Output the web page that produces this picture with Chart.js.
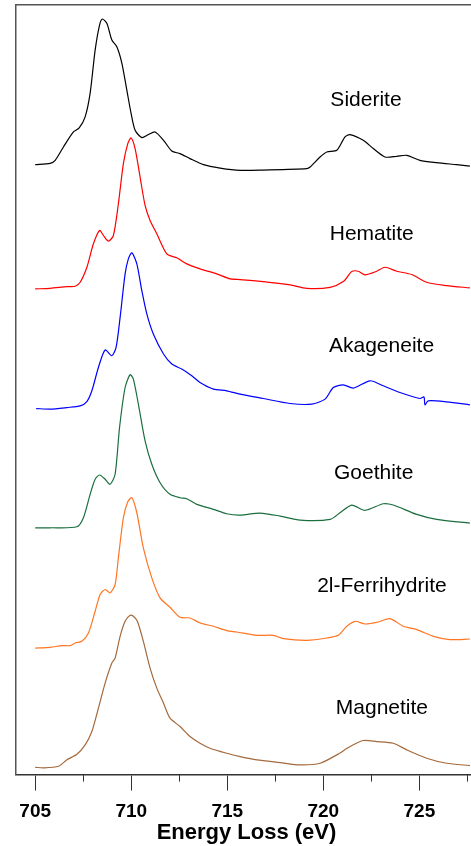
<!DOCTYPE html>
<html>
<head>
<meta charset="utf-8">
<script src="https://cdn.jsdelivr.net/npm/chart.js@4.4.0/dist/chart.umd.min.js"></script>
<style>
  html, body { margin: 0; padding: 0; background: #fff; overflow: hidden; }
  #wrap { width: 480px; height: 846px; }
</style>
</head>
<body>
<div id="wrap"><canvas id="eels" width="480" height="846"></canvas></div>
<script>
// Fe L-edge spectra, stacked (intensity already includes offset)
const tickValues = [705, 710, 715, 720, 725];
const minorTicks = [707.5, 712.5, 717.5, 722.5, 727.5];

const sideriteE = [705.0, 705.78, 706.04, 706.47, 706.99, 707.29, 707.6, 707.86, 708.12, 708.35, 708.5, 708.73, 708.99, 709.25, 709.51, 709.77, 709.99, 710.2, 710.55, 710.89, 711.24, 711.68, 712.11, 712.54, 713.06, 713.76, 714.63, 715.67, 716.88, 719.14, 719.31, 719.83, 720.18, 720.7, 721.13, 721.39, 722.08, 722.6, 723.21, 723.82, 724.34, 725.03, 725.9, 726.94, 727.63];
const sideriteI = [608.7, 610, 613, 626.3, 641.3, 645.3, 656.3, 680, 723, 748, 754, 749.7, 733, 726.3, 710, 683, 660, 643, 635.7, 638.7, 641.3, 633, 622.3, 619.7, 614.7, 608.7, 605.3, 603, 603.3, 604.7, 606.3, 616.3, 621.3, 623, 636.3, 638.7, 633, 624.7, 616.3, 617, 618, 613, 610.7, 608.7, 607.3];

const hematiteE = [705.0, 705.78, 706.65, 707.08, 707.34, 707.69, 708.03, 708.35, 708.55, 708.81, 709.07, 709.33, 709.59, 709.82, 709.99, 710.2, 710.46, 710.72, 710.98, 711.33, 711.85, 712.37, 712.89, 713.58, 714.45, 715.15, 715.67, 716.88, 718.27, 719.14, 720.35, 721.04, 721.48, 721.82, 722.17, 722.78, 723.21, 723.82, 724.6, 725.38, 726.42, 727.63];
const hematiteI = [484.7, 485.3, 487, 487.3, 491.3, 506.3, 529.7, 543, 538, 532.3, 538, 569.7, 609.7, 629.7, 635.3, 624.7, 596.3, 568, 553, 539.7, 519.7, 515.7, 509.7, 504.7, 499.7, 494.7, 494, 492, 488.7, 485.3, 486.3, 492, 502, 502.3, 498.7, 502.3, 506.3, 502.3, 499, 491.3, 488, 485.7];

const akageneiteE = [705.05, 705.78, 706.65, 707.34, 707.69, 707.95, 708.29, 708.64, 708.99, 709.21, 709.42, 709.68, 709.85, 710.03, 710.29, 710.55, 710.81, 711.15, 711.68, 712.11, 712.63, 713.15, 713.58, 714.28, 714.97, 715.67, 716.88, 718.27, 719.4, 720.09, 720.52, 721.04, 721.56, 722.43, 723.12, 723.99, 725.03, 725.24, 725.29, 725.46, 726.42, 727.63];
const akageneiteI = [365.3, 364.7, 366.3, 368, 372.3, 383, 406.3, 423.7, 418, 426.3, 456.3, 499.7, 514.7, 520.7, 509.7, 483, 459.7, 439.7, 419.7, 409.7, 404.7, 398, 391.3, 384.7, 383, 379.7, 375.3, 370.3, 369.7, 374.7, 386.3, 389, 385.7, 393, 388, 381.3, 375.3, 377, 369, 373, 372, 369];

const goethiteE = [705.0, 705.78, 707.17, 707.51, 707.86, 708.12, 708.35, 708.64, 708.9, 709.16, 709.39, 709.68, 709.94, 710.11, 710.37, 710.72, 711.07, 711.5, 712.02, 712.54, 712.89, 713.41, 714.28, 714.97, 715.67, 716.71, 717.75, 718.79, 720.35, 720.87, 721.48, 722.17, 723.12, 723.64, 724.86, 725.9, 727.63];
const goethiteI = [246.3, 246.3, 247.3, 256.3, 279.7, 294.7, 299, 294.7, 289.7, 299.7, 346.3, 386.3, 399, 394.7, 369.7, 333, 309.7, 291.3, 279.7, 276.3, 275.3, 269.7, 264.7, 260.3, 259, 261, 258, 254, 254.7, 261.3, 269, 263.7, 270.3, 269, 259.7, 254.7, 251];

const ferrihydriteE = [705.0, 705.78, 706.39, 706.82, 707.08, 707.43, 707.77, 708.12, 708.38, 708.64, 708.9, 709.16, 709.33, 709.59, 709.82, 710.03, 710.29, 710.63, 711.07, 711.5, 712.02, 712.54, 713.06, 713.58, 714.28, 714.97, 715.49, 716.54, 717.4, 717.92, 719.14, 720.18, 720.78, 721.22, 721.65, 722.17, 722.86, 723.47, 724.16, 724.86, 725.73, 726.59, 727.63];
const ferrihydriteI = [126.3, 127, 128.7, 128.7, 131.3, 133, 141.3, 163, 179.7, 184.7, 181.3, 189.7, 216.3, 256.3, 272.3, 276.3, 261.3, 226.3, 196.3, 176.3, 167, 157, 156.3, 151.3, 148, 143.7, 142.3, 139, 139, 135.7, 134, 136.3, 139, 148, 153, 150.3, 152.3, 155.7, 148, 144.7, 138, 134.7, 135.3];

const magnetiteE = [705.0, 705.43, 706.21, 706.65, 707.17, 707.6, 707.95, 708.29, 708.64, 708.99, 709.16, 709.42, 709.68, 709.94, 710.11, 710.32, 710.63, 710.98, 711.33, 711.68, 712.02, 712.54, 713.06, 713.58, 714.1, 714.97, 715.67, 716.54, 717.75, 718.79, 719.83, 720.7, 721.39, 722.08, 722.78, 723.64, 724.34, 725.38, 726.42, 727.63];
const magnetiteI = [7.3, 6.7, 8.3, 14.7, 20.3, 29.7, 43, 66.3, 91.3, 111.3, 116.3, 138, 153, 159, 158, 153, 133, 106.3, 86.3, 71.3, 56.3, 48, 38, 31.3, 26.3, 21.3, 18, 14.7, 12, 9.7, 11.3, 19.7, 28, 34, 33, 31.3, 24.7, 16.3, 11.3, 9];

const names = ["Siderite", "Hematite", "Akageneite", "Goethite", "2l-Ferrihydrite", "Magnetite"];
const energies = [sideriteE, hematiteE, akageneiteE, goethiteE, ferrihydriteE, magnetiteE];
const intensities = [sideriteI, hematiteI, akageneiteI, goethiteI, ferrihydriteI, magnetiteI];
const colors = ["#000000", "#ff0000", "#0000ff", "#1b6e3e", "#ff7522", "#a4693c"];

// where each name sits, in data units
const labelAt = [
  [722.22, 673], [722.52, 539.7], [723.03, 428],
  [722.62, 300.3], [723.05, 188], [723.05, 66.3]
];

const datasets = names.map((n, i) => ({
  label: n,
  data: energies[i].map((e, j) => ({ x: e, y: intensities[i][j] })),
  borderColor: colors[i],
  borderWidth: 1.2,
  pointRadius: 0,
  tension: 0.25,
  fill: false
}));

const extras = {
  id: "extras",
  afterDraw(chart) {
    const ctx = chart.ctx;
    const xs = chart.scales.x, ys = chart.scales.y;
    const bottom = chart.chartArea.bottom;
    ctx.save();
    // minor ticks
    ctx.strokeStyle = "#333";
    ctx.lineWidth = 1;
    minorTicks.forEach(v => {
      const px = Math.round(xs.getPixelForValue(v)) + 0.5;
      ctx.beginPath();
      ctx.moveTo(px, bottom);
      ctx.lineTo(px, bottom + 7);
      ctx.stroke();
    });
    // spectrum names
    ctx.fillStyle = "#000";
    ctx.font = "21px 'Liberation Sans', Arial, sans-serif";
    ctx.textAlign = "center";
    ctx.textBaseline = "middle";
    names.forEach((n, i) => {
      ctx.fillText(n, xs.getPixelForValue(labelAt[i][0]), ys.getPixelForValue(labelAt[i][1]));
    });
    ctx.restore();
  }
};

new Chart(document.getElementById("eels"), {
  type: "line",
  data: { datasets },
  plugins: [extras],
  options: {
    responsive: false,
    animation: false,
    layout: { padding: { left: 16, top: 5, right: 3, bottom: 0 } },
    plugins: { legend: { display: false }, tooltip: { enabled: false } },
    scales: {
      x: {
        type: "linear",
        position: "bottom",
        min: 704,
        max: 728,
        afterBuildTicks: s => { s.ticks = tickValues.map(v => ({ value: v })); },
        ticks: {
          color: "#000",
          padding: 12,
          font: { family: "'Liberation Sans', Arial, sans-serif", size: 19, weight: "bold", lineHeight: 1.0 }
        },
        grid: { drawOnChartArea: false, tickLength: 16, tickColor: "#333", tickWidth: 1 },
        border: { color: "#333", width: 1.5 },
        title: {
          display: true,
          text: "Energy Loss (eV)",
          color: "#000",
          padding: { top: -14, bottom: 0 },
          font: { family: "'Liberation Sans', Arial, sans-serif", size: 22, weight: "bold", lineHeight: 1.2 }
        }
      },
      xTop: {
        type: "linear",
        position: "top",
        min: 704,
        max: 728,
        ticks: { display: false },
        grid: { display: false, drawTicks: false },
        border: { color: "#555", width: 1.5 }
      },
      y: {
        min: 0,
        max: 768,
        ticks: { display: false },
        grid: { display: false, drawTicks: false },
        border: { color: "#555", width: 1.5 }
      }
    }
  }
});
</script>
</body>
</html>
